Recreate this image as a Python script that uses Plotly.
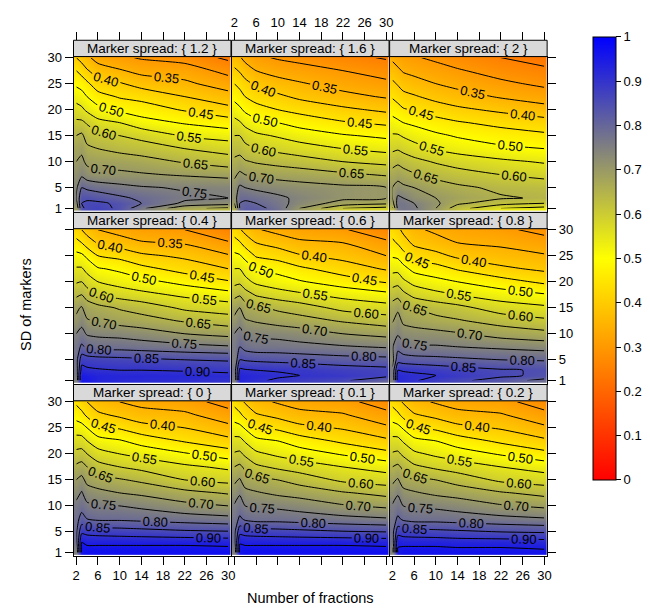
import numpy as np
import plotly.graph_objects as go

# ---------------- data ----------------
x_fractions = [2, 3, 4, 6, 10, 14, 22, 30]
y_sd = [1, 2, 3, 5, 7.5, 10, 12.5, 15, 17.5, 20, 22.5, 25, 27.5, 30]
x_ticks = [2, 6, 10, 14, 18, 22, 26, 30]
y_ticks = [1, 5, 10, 15, 20, 25, 30]
cb_ticks = [0, 0.1, 0.2, 0.3, 0.4, 0.5, 0.6, 0.7, 0.8, 0.9, 1]

# each list below = one column (fixed number of fractions), values bottom->top (SD 1..30)
z_s0 = [
    [.75, .76, .78, .79, .78, .765, .73, .70, .66, .615, .57, .525, .48, .44],
    [.96, .96, .95, .89, .82, .78, .755, .715, .67, .62, .57, .52, .465, .42],
    [.97, .96, .935, .885, .80, .76, .725, .685, .65, .60, .55, .50, .44, .40],
    [.97, .96, .935, .88, .79, .755, .715, .67, .62, .57, .52, .46, .41, .37],
    [.97, .96, .935, .875, .79, .75, .70, .655, .60, .55, .505, .445, .39, .35],
    [.97, .96, .935, .87, .785, .74, .69, .64, .585, .535, .48, .42, .37, .335],
    [.97, .96, .935, .86, .775, .715, .665, .60, .56, .505, .445, .40, .36, .32],
    [.97, .955, .93, .855, .765, .70, .645, .585, .54, .475, .415, .365, .32, .28],
]
z_s01 = [
    [.75, .76, .78, .785, .77, .755, .72, .69, .65, .605, .565, .52, .475, .435],
    [.96, .96, .945, .885, .81, .77, .745, .705, .66, .61, .565, .515, .46, .415],
    [.97, .96, .935, .88, .79, .75, .715, .675, .64, .59, .545, .495, .435, .395],
    [.97, .96, .935, .875, .78, .745, .705, .665, .61, .56, .515, .455, .405, .365],
    [.97, .96, .935, .87, .78, .74, .69, .65, .59, .54, .50, .44, .385, .345],
    [.97, .96, .935, .865, .775, .73, .68, .63, .575, .525, .475, .415, .365, .33],
    [.97, .96, .935, .855, .765, .705, .655, .59, .55, .495, .44, .395, .355, .315],
    [.97, .955, .93, .85, .755, .69, .635, .575, .53, .465, .41, .36, .315, .275],
]
z_s02 = [
    [.74, .75, .77, .78, .77, .755, .72, .69, .65, .605, .565, .52, .475, .435],
    [.95, .95, .94, .88, .81, .77, .745, .705, .66, .61, .565, .515, .46, .415],
    [.965, .955, .93, .875, .79, .75, .715, .675, .64, .59, .545, .495, .435, .395],
    [.965, .955, .93, .87, .78, .745, .705, .665, .61, .56, .515, .455, .405, .365],
    [.965, .955, .93, .865, .78, .74, .69, .65, .59, .54, .50, .44, .385, .345],
    [.965, .95, .925, .86, .775, .73, .68, .63, .575, .525, .475, .415, .365, .33],
    [.965, .95, .925, .85, .765, .705, .655, .59, .55, .495, .44, .395, .355, .315],
    [.96, .945, .92, .845, .755, .69, .635, .575, .53, .465, .41, .36, .315, .275],
]
z_s04 = [
    [.75, .76, .77, .78, .77, .75, .71, .69, .64, .595, .555, .515, .465, .42],
    [.95, .95, .92, .88, .81, .765, .735, .705, .65, .60, .555, .51, .45, .40],
    [.95, .94, .91, .875, .79, .745, .705, .675, .63, .575, .535, .49, .425, .38],
    [.93, .93, .905, .87, .78, .74, .695, .665, .60, .55, .505, .45, .395, .35],
    [.92, .925, .90, .865, .78, .735, .68, .645, .58, .53, .49, .435, .375, .33],
    [.915, .925, .90, .86, .775, .725, .67, .63, .565, .515, .465, .41, .355, .315],
    [.91, .92, .895, .85, .765, .70, .645, .59, .54, .485, .43, .39, .345, .30],
    [.90, .915, .885, .845, .755, .685, .625, .575, .52, .455, .40, .355, .305, .26],
]
z_s06 = [
    [.75, .76, .77, .75, .76, .75, .71, .685, .635, .585, .55, .51, .47, .425],
    [.93, .93, .91, .85, .80, .765, .735, .70, .645, .59, .55, .505, .455, .405],
    [.92, .925, .905, .845, .78, .745, .705, .67, .625, .565, .53, .485, .43, .385],
    [.91, .92, .90, .84, .77, .74, .695, .66, .595, .54, .50, .445, .40, .355],
    [.89, .91, .895, .835, .77, .735, .68, .64, .575, .52, .485, .43, .38, .335],
    [.88, .90, .89, .83, .765, .725, .67, .625, .56, .505, .46, .405, .36, .32],
    [.86, .89, .875, .82, .755, .70, .645, .585, .535, .475, .425, .385, .35, .305],
    [.80, .87, .865, .815, .745, .685, .625, .57, .515, .445, .395, .35, .31, .265],
]
z_s08 = [
    [.75, .76, .76, .73, .745, .73, .695, .675, .625, .58, .535, .495, .46, .43],
    [.92, .92, .90, .83, .785, .745, .72, .69, .635, .585, .535, .49, .445, .41],
    [.915, .915, .895, .825, .765, .725, .69, .66, .615, .56, .515, .47, .42, .39],
    [.905, .91, .89, .82, .755, .72, .68, .65, .585, .535, .485, .43, .39, .36],
    [.88, .90, .88, .815, .755, .715, .665, .63, .565, .515, .47, .415, .37, .34],
    [.86, .885, .87, .81, .75, .705, .655, .615, .55, .50, .445, .39, .35, .325],
    [.83, .86, .855, .80, .74, .68, .63, .575, .525, .47, .41, .37, .34, .31],
    [.78, .84, .845, .795, .73, .665, .61, .56, .505, .44, .39, .355, .32, .285],
]
z_s12 = [
    [.70, .73, .75, .74, .72, .70, .68, .65, .61, .57, .53, .49, .45, .40],
    [.84, .85, .84, .80, .74, .71, .69, .66, .61, .56, .52, .48, .43, .38],
    [.86, .86, .84, .79, .72, .69, .66, .63, .595, .54, .50, .46, .405, .36],
    [.87, .86, .83, .78, .71, .685, .65, .615, .565, .515, .47, .42, .375, .33],
    [.84, .84, .81, .765, .71, .68, .635, .60, .55, .49, .445, .405, .355, .31],
    [.76, .80, .79, .755, .705, .67, .625, .585, .52, .475, .435, .38, .335, .295],
    [.66, .74, .76, .745, .695, .645, .60, .545, .495, .445, .40, .36, .325, .28],
    [.64, .72, .75, .74, .685, .625, .58, .53, .475, .415, .37, .325, .285, .24],
]
z_s16 = [
    [.66, .70, .72, .72, .69, .66, .63, .60, .565, .525, .485, .45, .41, .37],
    [.80, .80, .79, .76, .71, .67, .63, .60, .555, .51, .47, .435, .395, .355],
    [.82, .81, .79, .75, .70, .655, .615, .58, .535, .49, .45, .415, .375, .335],
    [.82, .80, .78, .74, .69, .645, .60, .56, .515, .47, .43, .39, .35, .31],
    [.78, .77, .76, .73, .68, .635, .585, .545, .50, .45, .41, .37, .33, .295],
    [.70, .73, .74, .72, .675, .625, .57, .53, .48, .435, .39, .355, .32, .285],
    [.60, .68, .71, .71, .66, .60, .55, .505, .455, .41, .365, .33, .30, .265],
    [.58, .66, .70, .70, .645, .585, .535, .49, .44, .39, .345, .31, .28, .245],
]
z_s20 = [
    [.64, .68, .70, .70, .67, .63, .59, .555, .52, .48, .445, .41, .375, .34],
    [.76, .77, .76, .72, .68, .64, .595, .555, .51, .47, .43, .395, .36, .325],
    [.77, .77, .75, .71, .67, .63, .585, .545, .50, .455, .415, .38, .345, .315],
    [.76, .75, .72, .70, .655, .615, .57, .53, .49, .445, .405, .37, .335, .305],
    [.70, .71, .70, .675, .635, .595, .545, .51, .47, .425, .385, .35, .32, .29],
    [.62, .66, .68, .66, .62, .58, .53, .495, .455, .41, .37, .335, .305, .275],
    [.55, .62, .655, .64, .60, .56, .51, .475, .435, .39, .345, .31, .28, .25],
    [.53, .60, .645, .63, .585, .545, .50, .46, .42, .37, .325, .29, .26, .23],
]

# lattice order: top row, middle row, bottom row
panel_spreads = ["1.2", "1.6", "2", "0.4", "0.6", "0.8", "0", "0.1", "0.2"]
panel_z = [z_s12, z_s16, z_s20, z_s04, z_s06, z_s08, z_s0, z_s01, z_s02]

# ---------------- layout geometry (pixels of the 650x608 page) ----------------
W, H = 650, 608
col_left = [65.0, 224.3, 383.6]
col_w = 158.7
row_top = [26.7, 201.7, 376.7]   # top of each strip
strip_h = 16.6
panel_h = 157.6

def fx(px):
    return px / W

def fy(py):
    return (H - py) / H

FONT = "Liberation Sans, Arial, sans-serif"
TICK = 13
colorscale = [[0.0, "#ff0000"], [0.5, "#ffff00"], [0.75, "#808080"], [1.0, "#0000ff"]]

fig = go.Figure()
layout = dict(
    width=W, height=H, autosize=False,
    margin=dict(l=0, r=0, t=0, b=0),
    paper_bgcolor="white", plot_bgcolor="white",
    font=dict(family=FONT, size=TICK, color="black"),
    showlegend=False,
)
shapes = []
annotations = []

colorbar = dict(
    x=fx(588.3), xanchor="left", xref="paper",
    y=fy(23.3), yanchor="top", yref="paper",
    len=(474 - 23.3) / H, lenmode="fraction",
    thickness=23.4, thicknessmode="pixels",
    outlinecolor="black", outlinewidth=1,
    tickmode="array", tickvals=cb_ticks, ticktext=[f"{v:g}" for v in cb_ticks],
    ticks="outside", ticklen=5, tickcolor="black",
    tickfont=dict(family=FONT, size=TICK, color="black"),
    xpad=0, ypad=0,
)

for k in range(9):
    r, c = divmod(k, 3)
    n = k + 1
    xa = "x" if n == 1 else f"x{n}"
    ya = "y" if n == 1 else f"y{n}"
    z = np.array(panel_z[k]).T
    fig.add_trace(go.Heatmap(
        x=x_fractions, y=y_sd, z=z, xaxis=xa, yaxis=ya,
        colorscale=colorscale, zmin=0, zmax=1, zsmooth="best",
        showscale=(k == 0), colorbar=colorbar, hoverinfo="skip",
    ))
    fig.add_trace(go.Contour(
        x=x_fractions, y=y_sd, z=z, xaxis=xa, yaxis=ya,
        autocontour=False, showscale=False,
        contours=dict(start=0.05, end=0.95, size=0.05, coloring="none",
                      showlabels=True, labelformat=".2f",
                      labelfont=dict(family=FONT, size=13, color="black")),
        line=dict(color="black", width=1, smoothing=0.6),
        hoverinfo="skip",
    ))
    x0 = col_left[c]
    ytop = row_top[r] + strip_h
    ybot = ytop + panel_h
    bottom_row = (r == 2)
    xaxis = dict(
        domain=[fx(x0), fx(x0 + col_w)], anchor=ya,
        range=[1.5, 30.5], tickmode="array", tickvals=x_ticks,
        showline=True, mirror=True, linecolor="black", linewidth=1,
        showgrid=False, zeroline=False,
        ticks="outside" if bottom_row else "", ticklen=8, tickcolor="black",
        showticklabels=bottom_row and c != 1,
        tickfont=dict(family=FONT, size=TICK, color="black"),
    )
    yaxis = dict(
        domain=[fy(ybot), fy(ytop)], anchor=xa,
        range=[0.4, 30.2], tickmode="array", tickvals=y_ticks,
        showline=True, mirror=True, linecolor="black", linewidth=1,
        showgrid=False, zeroline=False,
        side="right" if c == 2 else "left",
        ticks="outside" if c != 1 else "", ticklen=8, tickcolor="black",
        showticklabels=(c == 0 and r != 1) or (c == 2 and r == 1),
        tickfont=dict(family=FONT, size=TICK, color="black"),
    )
    layout["xaxis" if n == 1 else f"xaxis{n}"] = xaxis
    layout["yaxis" if n == 1 else f"yaxis{n}"] = yaxis
    # strip
    shapes.append(dict(type="rect", xref="paper", yref="paper",
                       x0=fx(x0), x1=fx(x0 + col_w),
                       y0=fy(row_top[r] + strip_h), y1=fy(row_top[r]),
                       fillcolor="#d9d9d9", line=dict(color="black", width=1), layer="above"))
    annotations.append(dict(xref="paper", yref="paper",
                            x=fx(x0 + col_w / 2), y=fy(row_top[r] + strip_h / 2),
                            text=f"Marker spread: {{ {panel_spreads[k]} }}", showarrow=False,
                            xanchor="center", yanchor="middle",
                            font=dict(family=FONT, size=13.5, color="black")))

# top tick axes, drawn above the strips of the top row
for c in range(3):
    n = 10 + c
    base = "x" if c == 0 else f"x{c + 1}"
    base_y = "y" if c == 0 else f"y{c + 1}"
    layout[f"xaxis{n}"] = dict(
        overlaying=base, anchor="free", position=fy(row_top[0]), side="top",
        range=[1.5, 30.5], tickmode="array", tickvals=x_ticks,
        showline=False, showgrid=False, zeroline=False,
        ticks="outside", ticklen=8, tickcolor="black",
        showticklabels=(c == 1),
        tickfont=dict(family=FONT, size=TICK, color="black"),
    )
    fig.add_trace(go.Scatter(x=[None], y=[None], xaxis=f"x{n}", yaxis=base_y,
                             mode="markers", showlegend=False, hoverinfo="skip"))

annotations.append(dict(xref="paper", yref="paper", x=fx(303.5), y=fy(594),
                        text="Number of fractions", showarrow=False,
                        xanchor="center", yanchor="middle",
                        font=dict(family=FONT, size=14.5, color="black")))
annotations.append(dict(xref="paper", yref="paper", x=fx(17), y=fy(295),
                        text="SD of markers", showarrow=False, textangle=-90,
                        xanchor="center", yanchor="middle",
                        font=dict(family=FONT, size=14.5, color="black")))

layout["shapes"] = shapes
layout["annotations"] = annotations
fig.update_layout(**layout)
fig.write_html("out.html")
